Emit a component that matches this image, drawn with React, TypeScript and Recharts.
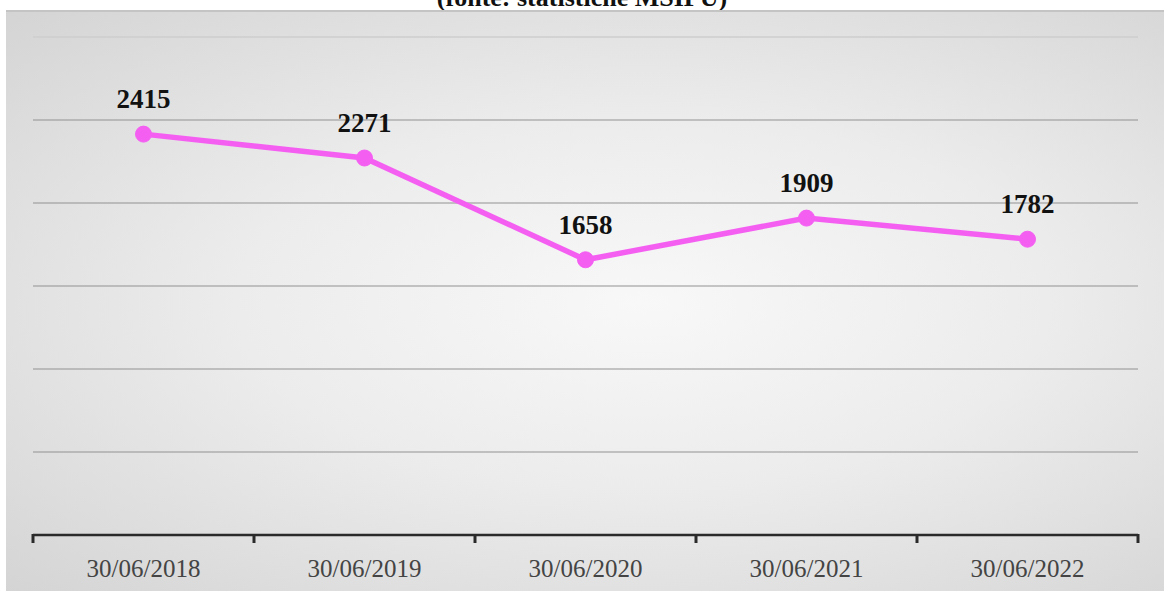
import React from 'react';
import { LineChart, Line, XAxis, YAxis, CartesianGrid, ReferenceLine, LabelList } from 'recharts';

const categories = ['30/06/2018', '30/06/2019', '30/06/2020', '30/06/2021', '30/06/2022'];
const values = [2415, 2271, 1658, 1909, 1782];
const yTicks = [0, 500, 1000, 1500, 2000, 2500];

const PINK = '#f45ff2';

// points sit in the middle of each category slot
const data = categories.map((c, i) => ({ x: i + 0.5, label: c, v: values[i] }));
const xTicks = Array.from({ length: categories.length * 2 + 1 }, (_, i) => i / 2);

const AxisTick = (props: any) => {
  const { x, y, payload } = props;
  const val = payload.value as number;
  if (Number.isInteger(val)) {
    return <line x1={x} y1={y - 1} x2={x} y2={y + 8} stroke="#2a2a2a" strokeWidth={3} />;
  }
  const idx = Math.floor(val);
  return (
    <text x={x} y={y + 42} textAnchor="middle" fill="#444" fontSize={25} fontFamily="'Liberation Serif', serif">
      {categories[idx]}
    </text>
  );
};

const App: React.FC = () => {
  return (
    <div style={{ position: 'absolute', left: 0, top: 0, width: 1164, height: 591, overflow: 'hidden', background: '#fff' }}>
      <div
        style={{
          position: 'absolute', top: -17, left: 0, width: 1164, textAlign: 'center',
          fontFamily: "'Liberation Serif', serif", fontWeight: 'bold', fontSize: 26, color: '#111',
        }}
      >
        (fonte: statistiche MSIPU)
      </div>
      <div
        style={{
          position: 'absolute', left: 6, top: 10, width: 1158, height: 581,
          borderTop: '2px solid #c4c4c4',
          background: 'radial-gradient(ellipse at 55% 50%, #f8f8f8 0%, #ececec 45%, #d4d4d4 100%)',
        }}
      />
      <div style={{ position: 'absolute', left: 0, top: 0 }}>
        <LineChart width={1164} height={591} data={data} margin={{ top: 37, right: 26, left: 33, bottom: 0 }}>
          <CartesianGrid vertical={false} stroke="#929292" strokeWidth={1.2} />
          <ReferenceLine y={3000} stroke="#ebebeb" strokeWidth={1.2} />
          <XAxis
            dataKey="x"
            type="number"
            domain={[0, 5]}
            ticks={xTicks}
            interval={0}
            height={56}
            axisLine={{ stroke: '#2a2a2a', strokeWidth: 2.5 }}
            tickLine={false}
            tickSize={0}
            tickMargin={0}
            tick={<AxisTick />}
          />
          <YAxis hide domain={[0, 3000]} ticks={yTicks} />
          <Line
            type="linear"
            dataKey="v"
            stroke={PINK}
            strokeWidth={5.5}
            dot={{ r: 8, fill: PINK, stroke: PINK, strokeWidth: 1 }}
            isAnimationActive={false}
          >
            <LabelList
              dataKey="v"
              position="top"
              offset={26}
              fill="#111"
              fontSize={27}
              fontWeight="bold"
              fontFamily="'Liberation Serif', serif"
            />
          </Line>
        </LineChart>
      </div>
    </div>
  );
};

export default App;
